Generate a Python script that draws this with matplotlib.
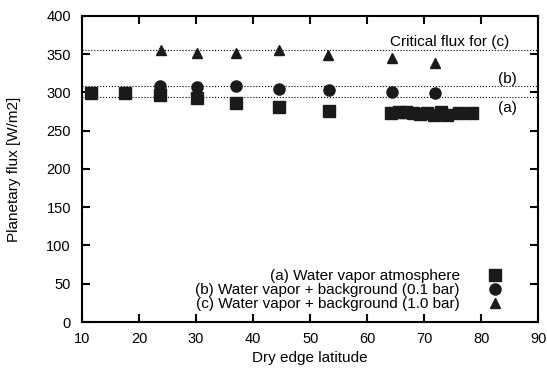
import matplotlib
matplotlib.use("Agg")
import matplotlib.pyplot as plt

plt.rcParams['font.family'] = ['Liberation Sans', 'DejaVu Sans']

# (a) water vapor atmosphere
lat_a = [11.6, 17.6, 23.7, 30.1, 37.0, 44.6, 53.3, 64.2, 65.5, 66.8, 68.0, 69.3, 70.5, 71.8, 73.0, 74.0, 76.1, 78.3]
flux_a = [299, 299, 296, 292, 286, 281, 276, 273, 274, 274, 273, 272, 273, 271, 274, 270, 273, 273]

# (b) water vapor + background (0.1 bar)
lat_b = [23.7, 30.1, 37.0, 44.6, 53.3, 64.3, 71.9]
flux_b = [308, 307, 308, 305, 303, 301, 299]

# (c) water vapor + background (1.0 bar)
lat_c = [23.8, 30.2, 37.0, 44.6, 53.2, 64.3, 71.9]
flux_c = [355, 352, 352, 355, 349, 345, 339]

crit_a = 294.5
crit_b = 308
crit_c = 355

fig = plt.figure(figsize=(5.47, 3.68), dpi=100)
ax = fig.add_axes([0.150, 0.125, 0.834, 0.832])

for level in [crit_a, crit_b, crit_c]:
    ax.axhline(level, color='black', linestyle=':', linewidth=0.8, zorder=1)

ax.plot(lat_a, flux_a, 's', color='#1a1a1a', ms=8, label='(a) Water vapor atmosphere', zorder=3)
ax.plot(lat_b, flux_b, 'o', color='#1a1a1a', ms=8, label='(b) Water vapor + background (0.1 bar)', zorder=3)
ax.plot(lat_c, flux_c, '^', color='#1a1a1a', ms=7, label='(c) Water vapor + background (1.0 bar)', zorder=3)

ax.text(84.9, 366, 'Critical flux for (c)', ha='right', va='center', fontsize=11)
ax.text(86.3, 318, '(b)', ha='right', va='center', fontsize=11)
ax.text(86.3, 280, '(a)', ha='right', va='center', fontsize=11)

ax.set_xlim(10, 90)
ax.set_ylim(0, 400)
ax.set_xticks(range(10, 91, 10))
ax.set_yticks(range(0, 401, 50))
ax.tick_params(direction='in', length=6, width=1.5, top=True, right=True, labelsize=10.5)
ax.tick_params(axis='y', pad=8)
ax.tick_params(axis='x', pad=7)
for s in ax.spines.values():
    s.set_linewidth(1.5)

ax.set_xlabel('Dry edge latitude', fontsize=11)
ax.set_ylabel('Planetary flux [W/m2]', fontsize=11, labelpad=18)

ax.legend(loc='lower right', bbox_to_anchor=(0.922, 0.036), markerfirst=False,
          frameon=False, fontsize=11, handlelength=1, handletextpad=1.8,
          labelspacing=0.0, borderpad=0, borderaxespad=0)

fig.savefig('out.png', dpi=100)
